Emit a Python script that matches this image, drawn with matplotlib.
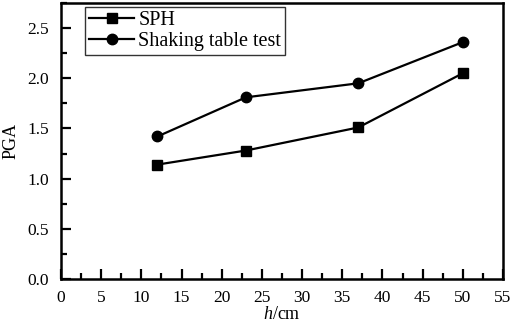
import numpy as np
import matplotlib.pyplot as plt
from matplotlib.ticker import MultipleLocator

plt.rcParams['font.family'] = ['Liberation Serif', 'DejaVu Serif']
plt.rcParams['mathtext.fontset'] = 'custom'
plt.rcParams['mathtext.rm'] = 'Liberation Serif'
plt.rcParams['mathtext.it'] = 'Liberation Serif:italic'

# data
h = [12, 23, 37, 50]
pga_sph = [1.14, 1.28, 1.51, 2.05]
pga_table = [1.42, 1.81, 1.95, 2.36]

fig = plt.figure(figsize=(5.12, 3.23), dpi=100)
ax = fig.add_axes([61 / 512, 1 - 279 / 323, 442 / 512, 276 / 323])

ax.plot(h, pga_sph, color='black', lw=1.6, marker='s', ms=7, label='SPH')
ax.plot(h, pga_table, color='black', lw=1.6, marker='o', ms=7.5, label='Shaking table test')

ax.set_xlim(0, 55)
ax.set_ylim(0, 2.75)
ax.xaxis.set_major_locator(MultipleLocator(5))
ax.xaxis.set_minor_locator(MultipleLocator(2.5))
ax.yaxis.set_minor_locator(MultipleLocator(0.25))
ax.set_yticks(np.arange(0, 2.51, 0.5))
ax.set_yticklabels(['0.0', '0.5', '1.0', '1.5', '2.0', '2.5'])

ax.tick_params(which='major', direction='in', length=7.2, width=1.6, labelsize=12.5,
               pad=8.5, top=False, right=False)
ax.tick_params(axis='x', which='major', pad=8)
ax.tick_params(which='minor', direction='in', length=4.3, width=1.6, top=False, right=False)
for s in ax.spines.values():
    s.set_linewidth(1.8)

ax.set_xlabel('$h$/cm', fontsize=13, labelpad=0)
ax.set_ylabel('PGA', fontsize=13, labelpad=6)

leg = ax.legend(loc='upper left', bbox_to_anchor=(24 / 442, 1 - 4 / 276), borderaxespad=0,
                fontsize=14.5, fancybox=False, edgecolor='black', handlelength=2.25,
                handletextpad=0.2, labelspacing=0.1, borderpad=0.2)
leg.get_frame().set_linewidth(1.0)

fig.savefig('out.png', dpi=100)
